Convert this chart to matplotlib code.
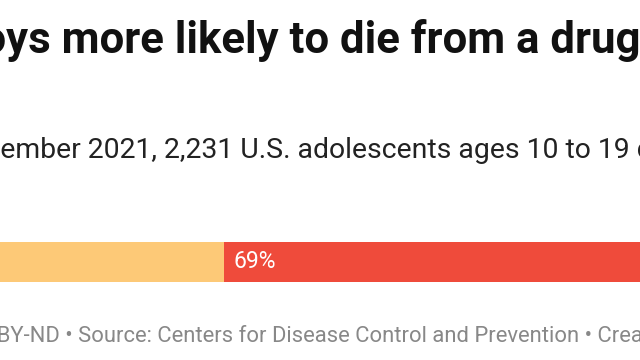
import matplotlib
matplotlib.use("Agg")
import matplotlib.pyplot as plt

# data
groups = ["Girls", "Boys"]
shares = [31, 69]
colors = ["#fdc977", "#ef4b3b"]
labels = ["31%", "69%"]

title = "Teen boys more likely to die from a drug overdose"
subtitle = ("From July 2019 to December 2021, 2,231 U.S. adolescents ages 10 to 19 "
            "died of a drug overdose")
footer = ("Chart: The Conversation, CC BY-ND \u2022 Source: Centers for Disease "
          "Control and Prevention \u2022 Created with Datawrapper")

W, H = 640, 360
fig = plt.figure(figsize=(W / 100, H / 100), dpi=100)
plt.rcParams['font.family'] = ['Roboto', 'DejaVu Sans']


def place(text, prefix, px, py, **kw):
    # put text so that the character after `prefix` starts at pixel px
    r = fig.canvas.get_renderer()
    t = fig.text(0, 0, prefix, **kw)
    w = t.get_window_extent(renderer=r).width
    t.remove()
    fig.text((px - w) / W, 1 - py / H, text, va="baseline", ha="left", **kw)


place(title, "Teen bo", 6, 53, fontsize=31.5, fontweight="bold", color="#111111")
place(subtitle, "From July 2019 to Dec", 0, 158, fontsize=20.4, color="#222222")
place(footer, "Chart: The Conversation, CC", -9, 342, fontsize=15.8, color="#888888")

# bar
ax = fig.add_axes([0, 1 - 282 / H, 1, 40 / H])
left = 0
for g, v, c, lab in zip(groups, shares, colors, labels):
    ax.barh(0, v, left=left, height=1, color=c, linewidth=0)
    ax.annotate(lab, (left, 0), xytext=(7, 0), textcoords="offset points",
                color="white", fontsize=16.5, va="center", ha="left")
    left += v
ax.set_xlim(15, 60.7)
ax.set_ylim(-0.5, 0.5)
ax.axis("off")

fig.savefig("out.png", dpi=100)
